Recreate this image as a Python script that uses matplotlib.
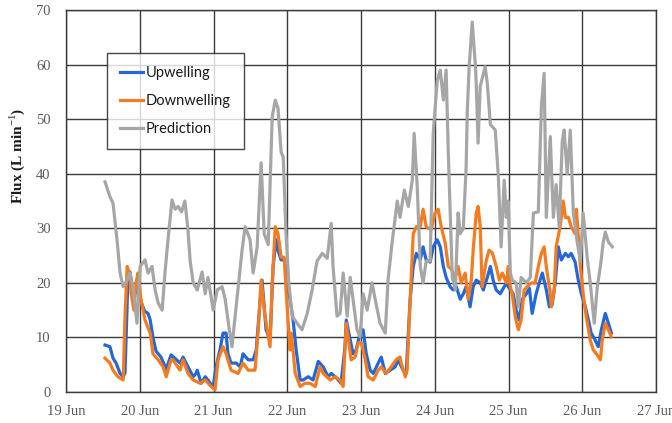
import matplotlib
matplotlib.use("Agg")
import matplotlib.pyplot as plt
import matplotlib.dates as mdates
import pandas as pd

# (hours since 19 Jun 00:00, flux in L/min)
upwelling = [
    (12.7, 8.6), (14.3, 8.3), (15.3, 6.2), (16.3, 5.3), (17.6, 3.4), (18.6, 2.8),
    (19.2, 3.5), (20.2, 21.5), (20.8, 22.0), (21.8, 18.5), (22.5, 18.0), (23.4, 19.3),
    (24.4, 16.5), (25.6, 14.8), (26.7, 14.4), (27.4, 13.2), (28.3, 10.0), (29.3, 7.5),
    (30.9, 6.4), (32.6, 4.2), (34.2, 6.8), (35.8, 6.0), (37.1, 5.3), (38.1, 6.4),
    (39.7, 4.6), (41.4, 2.8), (42.3, 3.4), (42.7, 4.0), (44.0, 1.6), (45.3, 2.8),
    (46.2, 2.2), (46.9, 1.6), (47.9, 1.0), (48.8, 4.6), (50.1, 7.7), (51.1, 10.8),
    (52.1, 10.8), (52.7, 7.0), (53.7, 5.3), (55.4, 5.3), (56.7, 4.6), (57.6, 7.0),
    (59.3, 5.9), (60.9, 5.9), (61.9, 7.7), (63.2, 17.0), (63.8, 20.5), (65.1, 11.4),
    (66.4, 9.5), (67.4, 23.0), (68.4, 27.9), (69.0, 26.0), (70.0, 24.2), (71.3, 24.2),
    (72.0, 21.0), (72.9, 17.0), (73.9, 13.2), (74.9, 7.7), (76.2, 2.2), (77.2, 2.2),
    (78.8, 2.8), (80.4, 2.2), (82.1, 5.6), (83.7, 4.6), (85.3, 2.8), (86.3, 3.4),
    (87.6, 2.8), (88.6, 2.2), (89.5, 1.6), (90.8, 8.3), (91.2, 13.2), (92.5, 9.5),
    (93.4, 7.0), (94.4, 7.7), (95.7, 10.8), (96.7, 11.4), (97.7, 7.0), (99.0, 4.0),
    (100.0, 3.4), (101.6, 5.3), (102.6, 6.4), (103.9, 3.4), (105.5, 4.0), (107.1, 4.6),
    (108.1, 5.9), (109.7, 4.0), (110.7, 3.4), (112.0, 17.0), (113.0, 23.0), (114.0, 25.4),
    (115.3, 24.2), (116.2, 26.6), (117.2, 24.2), (118.5, 23.8), (119.5, 26.6), (120.8, 27.9),
    (121.8, 26.6), (122.8, 23.0), (123.7, 21.0), (125.0, 19.3), (126.0, 18.7), (127.0, 19.3),
    (128.3, 17.0), (129.3, 18.0), (130.2, 19.3), (131.5, 15.6), (132.5, 19.3), (133.5, 20.5),
    (134.8, 20.0), (135.8, 18.7), (137.1, 21.0), (138.1, 23.0), (139.0, 20.5), (140.0, 18.7),
    (141.3, 18.0), (142.3, 19.0), (143.3, 19.9), (144.6, 18.7), (145.5, 18.0), (146.5, 15.0),
    (147.5, 13.2), (148.5, 17.0), (149.8, 18.0), (150.8, 19.0), (151.7, 14.4), (153.0, 18.0),
    (154.0, 20.0), (155.0, 21.8), (156.3, 18.7), (157.3, 15.6), (158.2, 16.0), (159.2, 20.0),
    (160.2, 26.6), (161.2, 24.2), (162.5, 25.4), (163.5, 24.8), (164.4, 25.4), (165.7, 23.8),
    (166.7, 20.5), (167.7, 18.0), (169.0, 15.6), (170.0, 13.2), (170.9, 10.8), (172.2, 9.5),
    (173.2, 8.3), (174.2, 11.4), (175.5, 14.4), (176.5, 12.6), (177.5, 10.8),
]

downwelling = [
    (12.7, 6.2), (14.3, 5.3), (15.3, 4.0), (16.9, 2.8), (18.6, 2.2), (19.2, 13.8),
    (19.9, 23.0), (20.8, 21.4), (21.2, 18.0), (22.1, 15.0), (22.8, 20.0), (23.4, 21.8),
    (24.4, 17.0), (25.7, 13.2), (27.4, 10.8), (28.3, 7.0), (30.0, 5.9), (31.6, 4.6),
    (32.6, 2.8), (34.2, 5.9), (34.8, 5.9), (37.1, 4.0), (38.1, 5.9), (39.7, 3.4),
    (41.4, 2.2), (43.6, 1.6), (45.3, 2.2), (47.2, 1.0), (48.5, 0.4), (49.5, 5.9),
    (51.1, 8.3), (52.1, 7.0), (53.7, 4.0), (56.0, 3.4), (57.6, 5.3), (59.3, 4.0),
    (61.5, 4.0), (62.5, 10.8), (63.5, 20.5), (64.8, 13.8), (66.4, 8.3), (67.1, 20.0),
    (68.1, 30.3), (69.0, 29.0), (70.0, 24.7), (71.0, 24.7), (71.6, 18.7), (72.9, 7.7),
    (73.3, 10.8), (74.6, 3.4), (76.2, 1.0), (77.8, 1.6), (79.4, 1.6), (81.1, 1.0),
    (82.7, 4.6), (83.7, 3.4), (86.0, 2.2), (87.6, 2.8), (89.2, 2.2), (90.2, 1.0),
    (91.2, 12.6), (91.8, 10.0), (92.8, 5.9), (94.1, 6.4), (95.1, 9.0), (96.1, 9.0),
    (97.4, 5.9), (98.3, 2.8), (100.0, 2.2), (101.6, 4.0), (102.6, 4.6), (104.2, 3.4),
    (105.8, 4.6), (107.4, 5.9), (108.7, 6.4), (109.1, 5.3), (110.4, 2.8), (111.0, 4.0),
    (112.0, 17.0), (113.0, 29.0), (114.0, 30.3), (115.3, 30.3), (116.2, 33.5), (117.2, 30.3),
    (118.8, 29.7), (120.1, 32.8), (121.1, 33.5), (122.1, 30.3), (123.4, 27.3), (124.4, 23.0),
    (125.4, 22.5), (126.7, 21.0), (127.6, 23.0), (128.6, 20.0), (129.9, 21.8), (130.9, 17.0),
    (131.9, 20.5), (132.5, 26.0), (133.5, 32.8), (134.1, 34.0), (134.8, 30.3), (135.4, 19.3),
    (136.8, 24.2), (137.7, 26.0), (138.7, 25.5), (140.0, 23.0), (141.0, 20.5), (142.0, 21.8),
    (143.3, 20.0), (143.9, 23.0), (144.6, 19.3), (145.2, 18.0), (146.2, 13.8), (147.2, 11.4),
    (148.1, 13.2), (149.1, 18.7), (150.1, 19.3), (151.4, 20.0), (152.7, 20.0), (153.7, 23.0),
    (154.7, 25.4), (155.6, 26.6), (156.3, 23.0), (157.6, 18.0), (157.9, 15.6), (158.9, 18.7),
    (159.5, 26.6), (160.8, 30.3), (161.8, 35.0), (162.5, 32.0), (163.5, 32.0), (164.4, 30.3),
    (165.7, 29.0), (166.1, 33.5), (167.4, 23.0), (168.3, 18.0), (169.3, 13.8), (170.6, 9.5),
    (171.6, 7.7), (172.6, 7.0), (173.9, 5.9), (174.5, 9.5), (175.5, 12.6), (176.5, 11.4),
    (177.5, 10.1),
]

prediction = [
    (12.7, 38.5), (14.3, 35.8), (15.3, 34.6), (16.6, 27.9), (17.6, 21.8), (18.6, 19.3),
    (19.9, 20.5), (20.8, 21.8), (21.8, 19.3), (23.1, 12.6), (24.1, 23.0), (25.7, 24.2),
    (26.7, 21.8), (28.0, 23.0), (29.0, 18.7), (30.0, 16.3), (31.3, 15.0), (32.2, 21.8),
    (33.2, 27.9), (34.5, 35.2), (35.5, 33.5), (36.5, 34.0), (37.6, 33.0), (38.7, 35.0),
    (39.7, 29.7), (40.4, 24.0), (41.4, 20.0), (42.7, 18.7), (44.3, 22.0), (45.3, 18.0),
    (46.2, 21.0), (47.9, 15.0), (49.2, 18.7), (50.8, 19.3), (51.8, 17.0), (53.0, 12.0),
    (54.0, 8.3), (55.7, 17.4), (57.3, 26.0), (58.3, 30.3), (59.9, 27.9), (60.9, 21.8),
    (62.2, 26.6), (63.5, 42.0), (64.5, 29.0), (65.8, 27.0), (67.1, 50.4), (68.1, 53.5),
    (69.0, 52.0), (70.0, 44.0), (70.7, 43.0), (71.6, 29.0), (72.5, 20.0), (73.6, 13.9),
    (75.2, 12.6), (76.8, 11.4), (78.5, 14.4), (80.1, 18.7), (81.7, 24.0), (83.4, 25.4),
    (85.0, 24.5), (86.3, 30.9), (86.9, 23.0), (88.2, 13.9), (89.2, 14.4), (90.2, 21.8),
    (91.5, 13.9), (92.5, 21.0), (93.4, 17.0), (94.7, 11.4), (95.7, 10.1), (96.7, 18.0),
    (98.0, 15.0), (99.6, 20.0), (100.6, 17.0), (102.2, 12.6), (103.9, 10.8), (104.8, 20.5),
    (106.1, 27.3), (107.8, 35.0), (108.7, 32.0), (110.1, 37.0), (111.4, 34.0), (112.7, 38.8),
    (113.3, 47.4), (114.3, 37.6), (115.3, 23.0), (116.2, 20.0), (117.2, 24.0), (118.5, 24.0),
    (119.5, 47.4), (120.8, 57.0), (121.8, 59.0), (122.8, 53.5), (123.7, 59.0), (124.4, 44.0),
    (125.7, 21.0), (126.7, 18.7), (127.6, 32.8), (128.3, 29.0), (129.3, 30.0), (130.2, 41.0),
    (130.6, 51.7), (131.2, 59.6), (132.2, 67.8), (133.2, 60.0), (133.5, 56.6), (134.1, 45.6),
    (134.8, 56.0), (136.4, 59.6), (137.1, 56.6), (138.1, 49.0), (139.7, 48.0), (140.7, 39.4),
    (141.6, 26.6), (142.6, 38.8), (143.3, 32.0), (143.9, 35.0), (144.6, 21.8), (145.2, 20.5),
    (146.5, 20.0), (147.2, 15.6), (148.1, 21.0), (149.8, 20.0), (151.1, 21.0), (152.1, 32.8),
    (153.7, 33.0), (154.7, 52.3), (155.6, 58.4), (156.3, 32.0), (157.6, 46.8), (158.6, 32.0),
    (159.5, 38.0), (160.5, 30.3), (161.5, 46.0), (162.1, 48.0), (163.1, 40.0), (164.1, 48.0),
    (165.1, 32.8), (166.4, 27.3), (167.4, 24.0), (168.3, 32.8), (169.6, 24.7), (170.6, 20.0),
    (171.9, 12.6), (172.9, 19.3), (173.9, 23.0), (174.8, 27.3), (175.5, 29.3), (176.5, 27.5),
    (177.8, 26.6),
]

start = pd.Timestamp("2019-06-19")
series = [
    ("Upwelling", upwelling, "#2468d8"),
    ("Downwelling", downwelling, "#f47b20"),
    ("Prediction", prediction, "#a6a6a6"),
]

plt.rcParams["mathtext.fontset"] = "custom"
plt.rcParams["mathtext.rm"] = "Liberation Serif"
plt.rcParams["mathtext.bf"] = "Liberation Serif:bold"

fig = plt.figure(figsize=(6.72, 4.23), dpi=100)
ax = fig.add_axes([66 / 672, 31 / 423, 590 / 672, 382 / 423])

for name, pts, color in series:
    hours = [p[0] for p in pts]
    flux = [p[1] for p in pts]
    t = start + pd.to_timedelta(hours, unit="h")
    ax.plot(t, flux, color=color, lw=2.3, label=name, solid_joinstyle="round")

ax.set_xlim(start, start + pd.Timedelta(days=8))
ax.set_ylim(0, 70)
ax.set_yticks(range(0, 71, 10))
ax.xaxis.set_major_locator(mdates.DayLocator())
ax.xaxis.set_major_formatter(mdates.DateFormatter("%d %b"))

ax.grid(True, color="#3a3a3a", lw=1.0)
ax.set_axisbelow(True)
for s in ax.spines.values():
    s.set_color("#3a3a3a")
    s.set_linewidth(1.0)

ax.tick_params(length=0, labelsize=10.5, labelcolor="#5a5a5a")
ax.tick_params(axis="x", pad=9)
ax.tick_params(axis="y", pad=11)
for lbl in ax.get_xticklabels() + ax.get_yticklabels():
    lbl.set_fontfamily("Liberation Serif")

fig.text(17 / 672, 1 - 156 / 423, r"$\mathbf{Flux}$ (L min$^{-1}$)",
         rotation=90, ha="center", va="center", fontsize=11,
         family="Liberation Serif", fontweight="bold", color="#1a1a1a")

leg = ax.legend(loc="upper left", bbox_to_anchor=(0.0695, 0.887), borderaxespad=0,
                frameon=True, fancybox=False, handlelength=1.6, handletextpad=0.15,
                labelspacing=0.95, borderpad=0.9,
                prop={"family": "Lato", "size": 10.5})
leg.get_frame().set_edgecolor("#1a1a1a")
leg.get_frame().set_linewidth(1.0)
for txt in leg.get_texts():
    txt.set_color("#1a1a1a")

fig.savefig("out.png", dpi=100)
